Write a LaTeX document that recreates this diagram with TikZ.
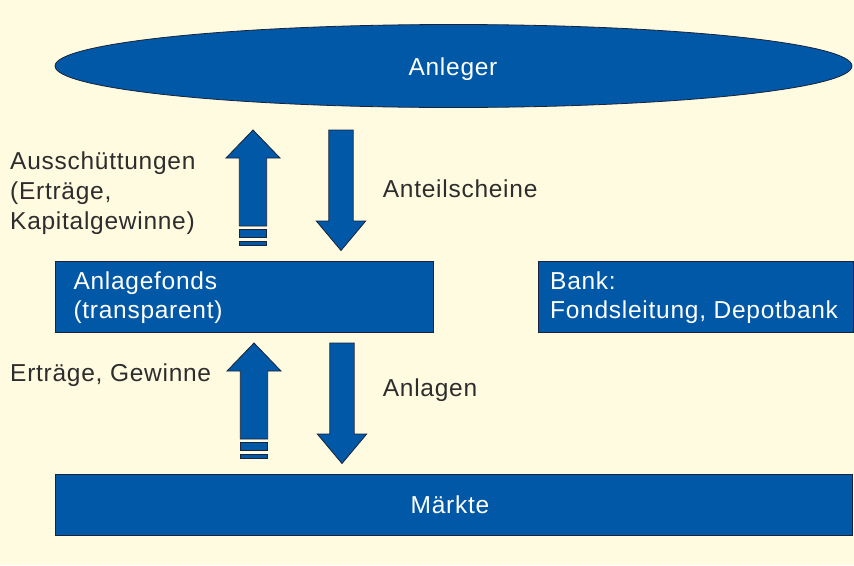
\documentclass[tikz,border=0pt]{standalone}
\usepackage{fontspec}
\setmainfont{Liberation Sans}[LetterSpace=3]
\usetikzlibrary{shapes.geometric}
\definecolor{bg}{RGB}{255,251,224}
\definecolor{fundblue}{RGB}{0,88,166}
\definecolor{edgecol}{RGB}{25,35,60}
\definecolor{lbl}{RGB}{45,45,45}
\tikzset{
  bluebox/.style={draw=edgecol, line width=0.8pt, fill=fundblue, inner sep=0pt, anchor=north west},
  intext/.style={text=white, anchor=base west, inner sep=0pt},
  outtext/.style={text=lbl, anchor=base west, inner sep=0pt},
  arrowfill/.style={draw=edgecol, line width=0.8pt, fill=fundblue},
  uparrow/.pic={
    \filldraw[arrowfill] (0,0) -- (27,28) -- (13.7,28) -- (13.7,96) -- (-13.7,96) -- (-13.7,28) -- (-27,28) -- cycle;
    \filldraw[arrowfill] (-13.7,99.5) rectangle (13.7,107.5);
    \filldraw[arrowfill] (-13.7,111) rectangle (13.7,115);
  },
  downarrow/.pic={
    \filldraw[arrowfill] (-12.2,0) -- (12.2,0) -- (12.2,91) -- (24.7,91) -- (0,120.5) -- (-24.7,91) -- (-12.2,91) -- cycle;
  }
}
\begin{document}
\begin{tikzpicture}[x=1pt,y=-1pt, font=\fontsize{24.5}{29}\selectfont]
\fill[bg] (0,0) rectangle (854,565);
\useasboundingbox (0,0) rectangle (854,565);

% Anleger
\node[ellipse, draw=edgecol, line width=0.8pt, fill=fundblue, minimum width=797pt, minimum height=83pt, inner sep=0pt] (anleger) at (453.5,66) {};
\node[text=white, anchor=base, inner sep=0pt] (anlegertext) at (453,75) {Anleger};

% Anlagefonds
\node[bluebox, minimum width=378pt, minimum height=71pt] (fonds) at (55,261) {};
\node[intext] (fonds1) at (73.3,289.3) {Anlagefonds};
\node[intext] (fonds2) at (73.3,318.3) {(transparent)};

% Bank
\node[bluebox, minimum width=315pt, minimum height=71pt] (bank) at (537.5,261) {};
\node[intext] (bank1) at (550,289.3) {Bank:};
\node[intext] (bank2) at (550,318.3) {Fondsleitung, Depotbank};

% Maerkte
\node[bluebox, minimum width=797pt, minimum height=61pt] (maerkte) at (55,474) {};
\node[text=white, anchor=base, inner sep=0pt] (maerktetext) at (450,513.3) {Märkte};

% arrows
\pic at (253,130) {uparrow};
\pic at (341,130) {downarrow};
\pic at (254,343) {uparrow};
\pic at (342,343) {downarrow};

% labels
\node[outtext] (l1) at (10,169.3) {Ausschüttungen};
\node[outtext] (l2) at (10,199.3) {(Erträge,};
\node[outtext] (l3) at (10,229.3) {Kapitalgewinne)};
\node[outtext] (l4) at (382.7,197.3) {Anteilscheine};
\node[outtext] (l5) at (10,381.7) {Erträge, Gewinne};
\node[outtext] (l6) at (382.7,396) {Anlagen};
\end{tikzpicture}
\end{document}
